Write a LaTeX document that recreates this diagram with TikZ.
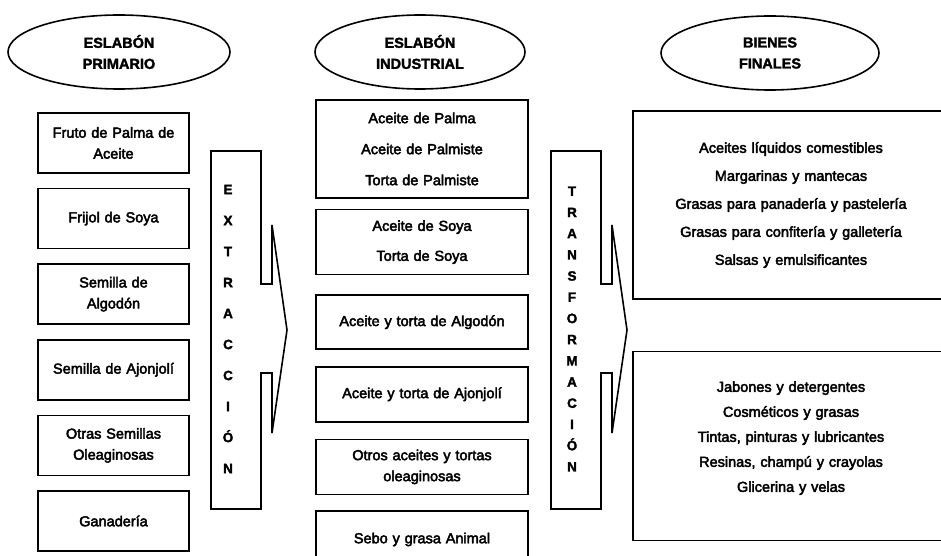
\documentclass[tikz,border=0pt]{standalone}
\usepackage{fontspec}
\setmainfont{Liberation Sans}
\newfontfamily\cuerpo{Liberation Sans}[FakeBold=3]
\newfontfamily\cabecera{Liberation Sans Bold}[FakeBold=2]
\usepackage{tikz}
\usetikzlibrary{shapes.geometric, positioning}

\tikzstyle{eslabon} = [ellipse, 
draw=black, 
line width=1.6pt, 
minimum width=222pt, 
minimum height=74pt, 
align=center, 
font=\cabecera\fontsize{14.5}{21}\selectfont]
\tikzstyle{primario} = [rectangle, 
draw=black, 
line width=1.6pt, 
minimum width=151pt, 
minimum height=60pt, 
text width=140pt, 
align=center, 
font=\cuerpo\fontsize{14.5}{21}\selectfont]
\tikzstyle{industrial} = [primario, minimum width=212pt, text width=200pt]
\tikzstyle{bienes} = [primario, minimum width=316pt, text width=300pt]
\tikzstyle{etapa} = [draw=black, line width=1.6pt, line join=miter]
\tikzstyle{letras} = [align=center, font=\cabecera\fontsize{13.5}{31}\selectfont]

\begin{document}
\begin{tikzpicture}[x=1pt, y=-1pt]
\useasboundingbox (0,0) rectangle (941,556);
\clip (0,0) rectangle (941,556);

% Cabeceras
\node (primario) [eslabon] at (119,52) {ESLABÓN\\PRIMARIO};
\node (industrial) [eslabon, minimum width=210pt] at (420,52) {ESLABÓN\\INDUSTRIAL};
\node (finales) [eslabon, minimum width=218pt] at (770,53) {BIENES\\FINALES};

% Eslabon primario
\node (fruto) [primario] at (113.5,143) {Fruto de Palma de\\Aceite};
\node (frijol) [primario, below=14pt of fruto] {Frijol de Soya};
\node (algodon) [primario, below=14pt of frijol] {Semilla de\\Algodón};
\node (ajonjoli) [primario, below=14pt of algodon] {Semilla de Ajonjolí};
\node (otras) [primario, below=14pt of ajonjoli] {Otras Semillas\\Oleaginosas};
\node (ganaderia) [primario, below=14pt of otras] {Ganadería};

% Extraccion
\draw [etapa] (211,151) -- (261,151) -- (261,284) -- (272,284) -- (272,225) -- (287,330)
  -- (272,433) -- (272,373) -- (261,373) -- (261,509) -- (211,509) -- cycle;
\node (extraccion) [letras] at (228,329) {E\\X\\T\\R\\A\\C\\C\\I\\Ó\\N};

% Eslabon industrial
\node (palma) [industrial, minimum height=98pt] at (422,149) {Aceite de Palma\\[10pt]Aceite de Palmiste\\[10pt]Torta de Palmiste};
\node (soya) [industrial, minimum height=65pt, below=10pt of palma] {Aceite de Soya\\[9pt]Torta de Soya};
\node (aceite_algodon) [industrial, minimum height=54pt, below=19pt of soya] {Aceite y torta de Algodón};
\node (aceite_ajonjoli) [industrial, minimum height=55pt, below=16pt of aceite_algodon] {Aceite y torta de Ajonjolí};
\node (otros) [industrial, minimum height=55pt, below=16pt of aceite_ajonjoli] {Otros aceites y tortas\\oleaginosas};
\node (sebo) [industrial, minimum height=57pt, below=15pt of otros] {Sebo y grasa Animal};

% Transformacion
\draw [etapa] (551,151) -- (601,151) -- (601,284) -- (612,284) -- (612,225) -- (627,330)
  -- (612,433) -- (612,373) -- (601,373) -- (601,509) -- (551,509) -- cycle;
\node (transformacion) [letras, font=\cabecera\fontsize{13.5}{21.2}\selectfont] at (572,329) {T\\R\\A\\N\\S\\F\\O\\R\\M\\A\\C\\I\\Ó\\N};

% Bienes finales
\node (comestibles) [bienes, minimum height=188pt] at (791,205) {Aceites líquidos comestibles\\[7pt]Margarinas y mantecas\\[7pt]Grasas para panadería y pastelería\\[7pt]Grasas para confitería y galletería\\[7pt]Salsas y emulsificantes};
\node (industriales) [bienes, minimum height=189pt, below=51pt of comestibles] {Jabones y detergentes\\[4pt]Cosméticos y grasas\\[4pt]Tintas, pinturas y lubricantes\\[4pt]Resinas, champú y crayolas\\[4pt]Glicerina y velas\\[-2pt]\mbox{}};

\end{tikzpicture}
\end{document}
